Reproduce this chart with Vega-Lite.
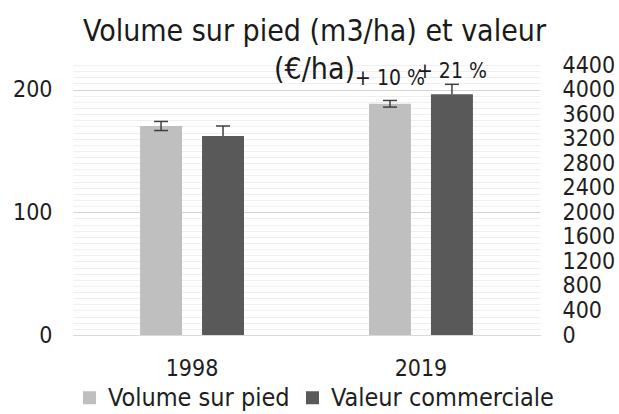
{
  "$schema": "https://vega.github.io/schema/vega-lite/v6.json",
  "width": 467,
  "height": 270,
  "autosize": "none",
  "padding": {"left": 73, "top": 65, "right": 79, "bottom": 79},
  "background": "white",
  "config": {
    "font": "DejaVu Sans Condensed",
    "view": {"stroke": null},
    "axis": {"labelColor": "#1e1e1e", "labelFont": "DejaVu Sans Condensed", "labelFontSize": 23, "ticks": false},
    "legend": {"labelFont": "DejaVu Sans Condensed", "labelColor": "#1e1e1e"}
  },
  "title": {
    "text": ["Volume sur pied (m3/ha) et valeur", "(€/ha)"],
    "font": "DejaVu Sans Condensed",
    "fontSize": 30,
    "fontWeight": "normal",
    "color": "#1a1a1a",
    "lineHeight": 38,
    "anchor": "middle",
    "frame": "group",
    "dx": 8,
    "offset": -31
  },
  "data": {
    "values": [
      {"annee": "1998", "serie": "Volume sur pied", "valeur": 170.3, "bas": 166.6, "haut": 174.0, "etiquette": ""},
      {"annee": "1998", "serie": "Valeur commerciale", "valeur": 3243, "bas": 3243, "haut": 3406, "etiquette": ""},
      {"annee": "2019", "serie": "Volume sur pied", "valeur": 188.4, "bas": 185.7, "haut": 191.1, "etiquette": "+ 10 %"},
      {"annee": "2019", "serie": "Valeur commerciale", "valeur": 3922, "bas": 3922, "haut": 4085, "etiquette": "+ 21 %"}
    ]
  },
  "encoding": {
    "x": {
      "field": "annee",
      "type": "nominal",
      "title": null,
      "scale": {"paddingInner": 0.546, "paddingOuter": 0.293},
      "axis": {"labelAngle": 0, "labelPadding": 22, "domainColor": "#d9d9d9", "domainWidth": 1, "grid": false, "labelFontSize": 23}
    },
    "xOffset": {
      "field": "serie",
      "type": "nominal",
      "sort": ["Volume sur pied", "Valeur commerciale"],
      "scale": {"paddingInner": 0.3226, "paddingOuter": 0}
    },
    "color": {
      "field": "serie",
      "type": "nominal",
      "sort": ["Volume sur pied", "Valeur commerciale"],
      "scale": {"domain": ["Volume sur pied", "Valeur commerciale"], "range": ["#bfbfbf", "#595959"]},
      "legend": {
        "orient": "none",
        "legendX": 4,
        "legendY": 320,
        "direction": "horizontal",
        "title": null,
        "labelFontSize": 25,
        "labelLimit": 0,
        "symbolType": "square",
        "symbolSize": 169,
        "symbolStrokeWidth": 0,
        "symbolOpacity": 1,
        "columnPadding": 10,
        "labelOffset": 6
      }
    }
  },
  "layer": [
    {
      "transform": [{"filter": "datum.serie === 'Volume sur pied'"}],
      "mark": {"type": "bar"},
      "encoding": {
        "y": {
          "field": "valeur",
          "type": "quantitative",
          "title": null,
          "scale": {"domain": [0, 220], "nice": false, "zero": true},
          "axis": {
            "orient": "left",
            "values": [0,5,10,15,20,25,30,35,40,45,50,55,60,65,70,75,80,85,90,95,100,105,110,115,120,125,130,135,140,145,150,155,160,165,170,175,180,185,190,195,200,205,210,215,220],
            "labelExpr": "datum.value % 100 === 0 ? datum.label : ''",
            "labelPadding": 21,
            "domain": false,
            "grid": true,
            "gridColor": {"condition": {"test": "datum.value % 100 === 0", "value": "#d4d4d4"}, "value": "#efefef"},
            "gridWidth": 1
          }
        }
      }
    },
    {
      "transform": [{"filter": "datum.serie === 'Valeur commerciale'"}],
      "mark": {"type": "bar"},
      "encoding": {
        "y": {
          "field": "valeur",
          "type": "quantitative",
          "title": null,
          "scale": {"domain": [0, 4400], "nice": false, "zero": true},
          "axis": {
            "orient": "right",
            "values": [0,400,800,1200,1600,2000,2400,2800,3200,3600,4000,4400],
            "format": "d",
            "labelPadding": 22,
            "domain": false,
            "grid": false
          }
        }
      }
    },
    {
      "transform": [{"filter": "datum.serie === 'Volume sur pied'"}],
      "mark": {"type": "rule", "color": "#404040", "strokeWidth": 1.5},
      "encoding": {
        "y": {"field": "bas", "type": "quantitative", "scale": {"domain": [0, 220], "nice": false}, "axis": null},
        "y2": {"field": "haut"},
        "color": {"value": "#404040"}
      }
    },
    {
      "transform": [{"filter": "datum.serie === 'Valeur commerciale'"}],
      "mark": {"type": "rule", "color": "#404040", "strokeWidth": 1.5},
      "encoding": {
        "y": {"field": "bas", "type": "quantitative", "scale": {"domain": [0, 4400], "nice": false}, "axis": null},
        "y2": {"field": "haut"},
        "color": {"value": "#404040"}
      }
    },
    {
      "transform": [{"filter": "datum.serie === 'Volume sur pied'"}],
      "mark": {"type": "tick", "orient": "horizontal", "size": 14, "thickness": 1.5, "opacity": 1},
      "encoding": {
        "y": {"field": "bas", "type": "quantitative", "scale": {"domain": [0, 220], "nice": false}, "axis": null},
        "color": {"value": "#404040"}
      }
    },
    {
      "transform": [{"filter": "datum.serie === 'Volume sur pied'"}],
      "mark": {"type": "tick", "orient": "horizontal", "size": 14, "thickness": 1.5, "opacity": 1},
      "encoding": {
        "y": {"field": "haut", "type": "quantitative", "scale": {"domain": [0, 220], "nice": false}, "axis": null},
        "color": {"value": "#404040"}
      }
    },
    {
      "transform": [{"filter": "datum.serie === 'Valeur commerciale'"}],
      "mark": {"type": "tick", "orient": "horizontal", "size": 14, "thickness": 1.5, "opacity": 1},
      "encoding": {
        "y": {"field": "haut", "type": "quantitative", "scale": {"domain": [0, 4400], "nice": false}, "axis": null},
        "color": {"value": "#404040"}
      }
    },
    {
      "transform": [{"filter": "datum.serie === 'Volume sur pied'"}],
      "mark": {"type": "text", "fontSize": 21, "dy": -25, "baseline": "middle", "align": "center", "font": "DejaVu Sans Condensed"},
      "encoding": {
        "y": {"field": "valeur", "type": "quantitative", "scale": {"domain": [0, 220], "nice": false}, "axis": null},
        "text": {"field": "etiquette"},
        "color": {"value": "#1a1a1a"}
      }
    },
    {
      "transform": [{"filter": "datum.serie === 'Valeur commerciale'"}],
      "mark": {"type": "text", "fontSize": 21, "dy": -22, "baseline": "middle", "align": "center", "font": "DejaVu Sans Condensed"},
      "encoding": {
        "y": {"field": "valeur", "type": "quantitative", "scale": {"domain": [0, 4400], "nice": false}, "axis": null},
        "text": {"field": "etiquette"},
        "color": {"value": "#1a1a1a"}
      }
    }
  ],
  "resolve": {"scale": {"y": "independent"}}
}
